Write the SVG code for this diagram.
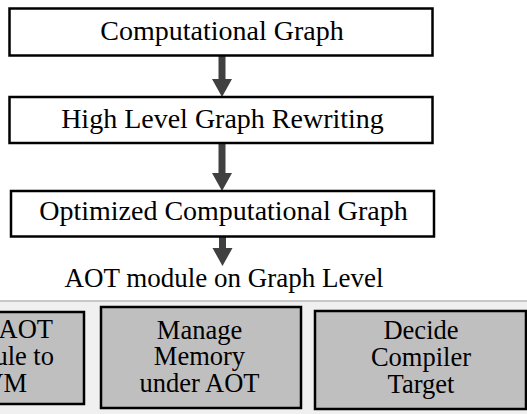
<svg xmlns="http://www.w3.org/2000/svg" width="527" height="414" viewBox="0 0 527 414">
<style>
.box{fill:#ffffff;stroke:#000000;stroke-width:2.5}
.gbox{fill:#bfbfbf;stroke:#000000;stroke-width:2.5}
.arrow{fill:#404040;stroke:none}
</style>
<rect x="0" y="0" width="527" height="414" fill="#ffffff"/>
<g id="panel">
<rect x="0" y="301" width="527" height="113" fill="#f0f0f0"/>
<line x1="0" y1="301" x2="527" y2="301" stroke="#c8c8c8" stroke-width="2"/>
</g>
<g id="connectors">
<path class="arrow" d="M218.5,55 H225.5 V79 H232 L222,97 L212,79 H218.5 Z"/>
<path class="arrow" d="M218.5,143 H225.5 V173 H232 L222,191 L212,173 H218.5 Z"/>
<path class="arrow" d="M219,237 H226 V248 H232.5 L222.5,266 L212.5,248 H219 Z"/>
</g>
<g font-family="Liberation Serif, Times New Roman, serif" font-size="28" fill="#000000" text-anchor="middle">
<g id="node-computational-graph">
<rect class="box" x="9.5" y="8.5" width="423" height="47"/>
<text x="222" y="40">Computational Graph</text>
</g>
<g id="node-high-level">
<rect class="box" x="9.5" y="97" width="423" height="46"/>
<text x="222.5" y="127.5">High Level Graph Rewriting</text>
</g>
<g id="node-optimized">
<rect class="box" x="11" y="191" width="423" height="45.5"/>
<text x="223.5" y="220">Optimized Computational Graph</text>
</g>
<g id="label-aot">
<text x="224" y="286.5" font-size="27">AOT module on Graph Level</text>
</g>
<g id="node-left" font-size="26.5">
<rect class="gbox" x="-120" y="312" width="204" height="92"/>
<text x="53" y="338" text-anchor="end">AOT</text>
<text x="54" y="365" text-anchor="end">ule to</text>
<text x="27" y="392" text-anchor="end">VM</text>
</g>
<g id="node-manage-memory" font-size="26.5">
<rect class="gbox" x="101" y="307" width="200" height="101"/>
<text x="199.5" y="338.5">Manage</text>
<text x="199.5" y="365">Memory</text>
<text x="199.5" y="392">under AOT</text>
</g>
<g id="node-decide-target" font-size="26.5">
<rect class="gbox" x="315" y="311" width="211" height="98"/>
<text x="421" y="339">Decide</text>
<text x="421" y="366">Compiler</text>
<text x="421" y="393">Target</text>
</g>
</g>
</svg>
